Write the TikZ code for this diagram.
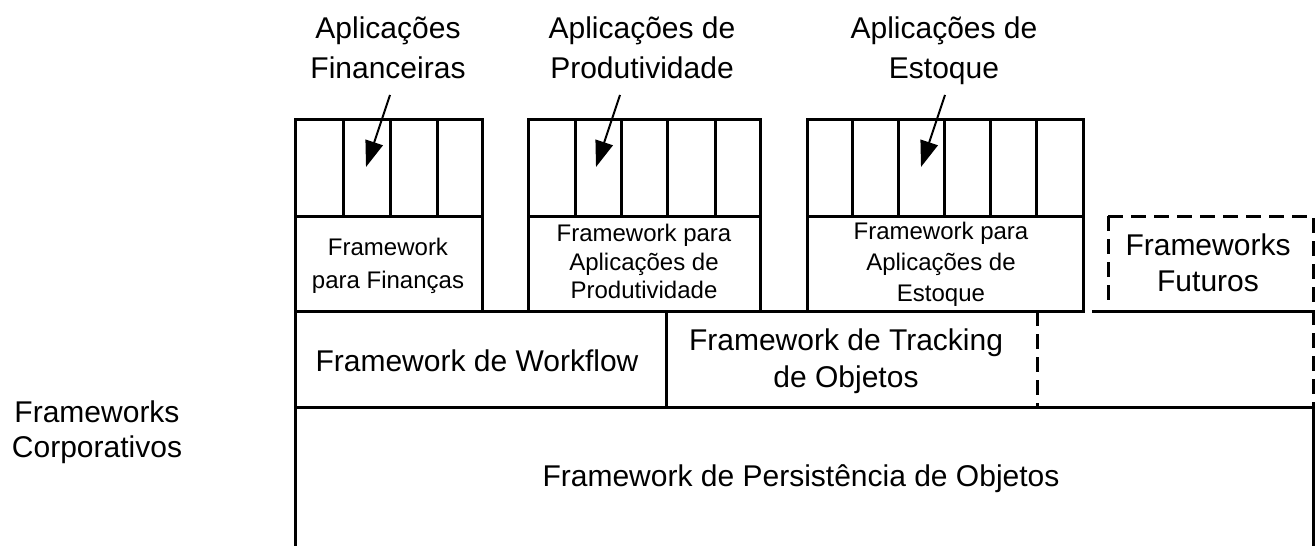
\documentclass[tikz,border=0pt]{standalone}
\usepackage{fontspec}
\setmainfont{Liberation Sans}
\usetikzlibrary{arrows.meta}
\begin{document}
\begin{tikzpicture}[x=1pt,y=-1pt,line width=3pt,line join=miter,
  dsh/.style={dash pattern=on 15pt off 8pt,line cap=butt},
  solid line/.style={line cap=rect},
  txt/.style={inner sep=0pt,anchor=base},
  big/.style={txt,font=\fontsize{30}{36}\selectfont},
  small/.style={txt,font=\fontsize{24}{28}\selectfont},
  arr/.style={line width=2pt,-{Triangle[length=26pt,width=18pt]}}]
\useasboundingbox (0,0) rectangle (1315,546);
% application boxes
\draw (295,119) rectangle (482,311);
\draw (295,216) -- (482,216);
\foreach \x in {343,390,437} \draw (\x,119) -- (\x,216);
\draw (528,119) rectangle (760,311);
\draw (528,216) -- (760,216);
\foreach \x in {575,621,667,715} \draw (\x,119) -- (\x,216);
\draw (807,119) rectangle (1083,311);
\draw (807,216) -- (1083,216);
\foreach \x in {852,898,944,990,1036} \draw (\x,119) -- (\x,216);
% row lines
\draw[solid line] (295,311) -- (1083,311);
\draw[solid line] (1093,311) -- (1313,311);
\draw[solid line] (295,119) -- (295,546);
\draw[solid line] (295,407) -- (1313,407);
\draw[solid line] (666,311) -- (666,407);
\draw[dsh] (1037,311) -- (1037,407);
\draw[dsh] (1108,216) -- (1108,303);
\draw[dsh] (1108,216) -- (1313,216) -- (1313,407);
\draw[solid line] (1313,407) -- (1313,546);
% top labels
\node[big] (af1) at (388,38) {Aplicações};
\node[big] (af2) at (388,78) {Financeiras};
\node[big] (ap1) at (642,38) {Aplicações de};
\node[big] (ap2) at (642,78) {Produtividade};
\node[big] (ae1) at (944,38) {Aplicações de};
\node[big] (ae2) at (944,78) {Estoque};
% arrows
\coordinate (fs) at (390,95); \coordinate (fe) at (366,167);
\coordinate (ps) at (620,95); \coordinate (pe) at (596,167);
\coordinate (es) at (945,95); \coordinate (ee) at (921,167);
\draw[arr] (fs) -- (fe);
\draw[arr] (ps) -- (pe);
\draw[arr] (es) -- (ee);
% framework boxes text
\node[small] (ff1) at (388,255) {Framework};
\node[small] (ff2) at (388,288) {para Finanças};
\node[small] (fp1) at (644,241) {Framework para};
\node[small] (fp2) at (644,270) {Aplicações de};
\node[small] (fp3) at (644,298) {Produtividade};
\node[small] (fe1) at (941,239) {Framework para};
\node[small] (fe2) at (941,270) {Aplicações de};
\node[small] (fe3) at (941,301) {Estoque};
\node[big] (fu1) at (1208,255) {Frameworks};
\node[big] (fu2) at (1208,291) {Futuros};
\node[big] (wf) at (477,371) {Framework de Workflow};
\node[big] (tr1) at (846,350) {Framework de Tracking};
\node[big] (tr2) at (846,387) {de Objetos};
\node[big] (pe1) at (801,486) {Framework de Persistência de Objetos};
\node[big] (co1) at (97,422) {Frameworks};
\node[big] (co2) at (97,457) {Corporativos};
\end{tikzpicture}
\end{document}
